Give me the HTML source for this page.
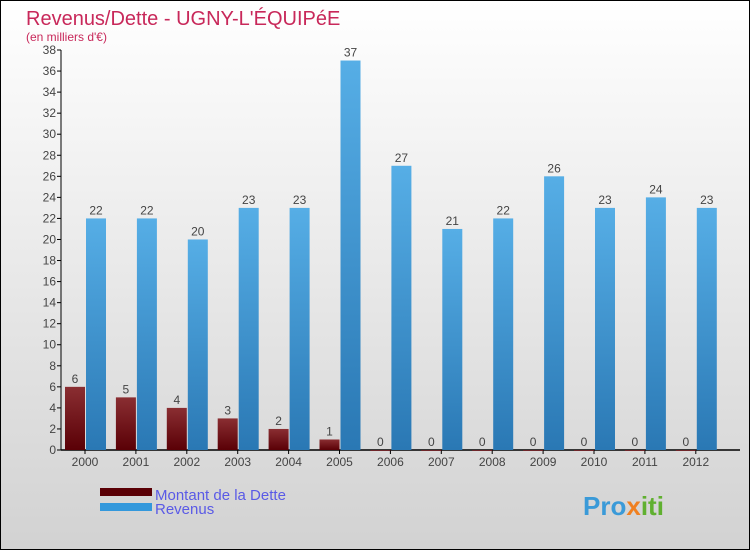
<!DOCTYPE html>
<html><head><meta charset="utf-8"><style>
html,body{margin:0;padding:0}
body{width:750px;height:550px;overflow:hidden;font-family:"Liberation Sans","DejaVu Sans",sans-serif}
#wrap{position:absolute;left:0;top:0;width:748px;height:548px;border:1px solid #000;background:linear-gradient(#ffffff,#d2d2d2)}
</style></head><body>
<div id="wrap">
<svg width="748" height="548" viewBox="1 1 748 548">
<defs>
<linearGradient id="gd" x1="0" y1="0" x2="0" y2="1"><stop offset="0" stop-color="#8a2e32"/><stop offset="1" stop-color="#5a0006"/></linearGradient>
<linearGradient id="gr" x1="0" y1="0" x2="0" y2="1"><stop offset="0" stop-color="#56aee6"/><stop offset="1" stop-color="#2a78b4"/></linearGradient>
</defs>
<text x="26" y="25" font-size="20" fill="#c8285a">Revenus/Dette - UGNY-L'ÉQUIPéE</text>
<text x="26" y="41" font-size="12" fill="#c8285a">(en milliers d'€)</text>
<g id="axes"></g>
<g id="bars"></g>
<rect x="100" y="488" width="52" height="8" fill="#5a0006"/>
<text x="155" y="500" font-size="15" fill="#5a5ae6">Montant de la Dette</text>
<rect x="100" y="503" width="52" height="8" fill="#3398dc"/>
<text x="155" y="514" font-size="15" fill="#5a5ae6">Revenus</text>
<text x="583" y="515" font-size="26" font-weight="bold" fill="#3a9ad8">Pro<tspan fill="#f08020">x</tspan><tspan fill="#60b030">iti</tspan></text>
</svg></div>
<script>
const years=["2000","2001","2002","2003","2004","2005","2006","2007","2008","2009","2010","2011","2012"];
const dette=[6,5,4,3,2,1,0,0,0,0,0,0,0];
const revenus=[22,22,20,23,23,37,27,21,22,26,23,24,23];
const yTicks=[0,2,4,6,8,10,12,14,16,18,20,22,24,26,28,30,32,34,36,38];
const NS="http://www.w3.org/2000/svg";
const y0=450,yTop=50,yMax=38,x0=61,step=50.9,bw=20;
const ys=v=>y0-v*(y0-yTop)/yMax;
const xs=i=>65+i*step;
function mk(t,a,p){const e=document.createElementNS(NS,t);for(const k in a)e.setAttribute(k,a[k]);p.appendChild(e);return e;}
const ax=document.getElementById('axes'),bg=document.getElementById('bars');
const yl=mk('line',{x1:x0,y1:yTop,x2:x0,y2:y0,stroke:'#000'},ax);


const xl=mk('line',{x1:x0,y1:y0,x2:740,y2:y0,stroke:'#000','stroke-width':1.5},ax);


yTicks.forEach(v=>{
 mk('line',{x1:x0-4,y1:ys(v),x2:x0,y2:ys(v),stroke:'#000'},ax);
 const t=mk('text',{x:x0-5,y:ys(v)+4,'font-size':12,'text-anchor':'end',fill:'#444'},ax);t.textContent=v;
 
 
});
years.forEach((yr,i)=>{
 const x=xs(i);
 mk('line',{x1:x+bw,y1:y0,x2:x+bw,y2:y0+4,stroke:'#000'},ax);
 const t=mk('text',{x:x+bw,y:y0+16,'font-size':12,'text-anchor':'middle',fill:'#444'},ax);t.textContent=yr;
 
 
 const d=mk('rect',{x:x,y:ys(dette[i]),width:bw,height:Math.max(y0-ys(dette[i]),0.8),fill:'url(#gd)'},bg);
 
 
 const dl=mk('text',{x:x+bw/2,y:ys(dette[i])-4,'font-size':12,'text-anchor':'middle',fill:'#444'},bg);dl.textContent=dette[i];
 
 
 const r=mk('rect',{x:x+bw+1,y:ys(revenus[i]),width:bw,height:y0-ys(revenus[i]),fill:'url(#gr)'},bg);
 
 
 const rl=mk('text',{x:x+bw+1+bw/2,y:ys(revenus[i])-4,'font-size':12,'text-anchor':'middle',fill:'#444'},bg);rl.textContent=revenus[i];
 
 
});
</script>
</body></html>
